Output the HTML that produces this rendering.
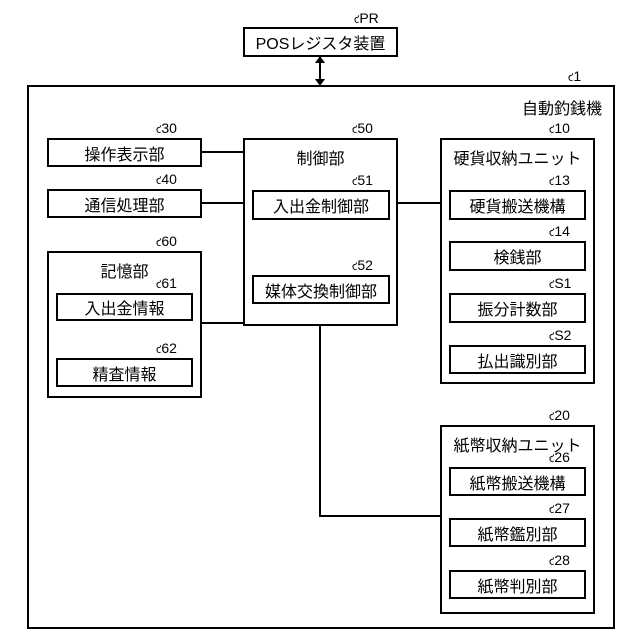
<!DOCTYPE html>
<html><head><meta charset="utf-8"><style>
body{margin:0;width:640px;height:640px;background:#fff;position:relative;font-family:"Liberation Sans","Noto Sans CJK JP",sans-serif;color:#000;overflow:hidden}
.b{position:absolute;border:2px solid #000;box-sizing:border-box;background:#fff}
.c{display:flex;align-items:center;justify-content:center;font-size:16px}
.t{position:absolute;font-size:16px;text-align:center}
.r{position:absolute;font-size:14px;line-height:14px}
.r::before{content:"ς";font-size:11px;display:inline-block;transform:rotate(180deg) scaleX(-1);margin-right:0}
.l{position:absolute;background:#000}
</style></head><body>
<svg style="position:absolute;left:0;top:0" width="640" height="640">
<line x1="320" y1="62" x2="320" y2="79" stroke="#000" stroke-width="2"/>
<polygon points="315,63 325,63 320,56" fill="#000"/>
<polygon points="315,79 325,79 320,86" fill="#000"/>
</svg>
<div class="b c" style="left:243px;top:27px;width:155px;height:30px">POSレジスタ装置</div>
<div class="r" style="left:354px;top:11px">PR</div>
<div class="b" style="left:27px;top:85px;width:588px;height:544px"></div>
<div class="r" style="left:568px;top:69px">1</div>
<div class="t" style="left:522px;top:95px">自動釣銭機</div>

<div class="l" style="left:201px;top:151px;width:43px;height:2px"></div>
<div class="l" style="left:201px;top:202px;width:43px;height:2px"></div>
<div class="l" style="left:201px;top:322px;width:43px;height:2px"></div>
<div class="l" style="left:397px;top:202px;width:44px;height:2px"></div>
<div class="l" style="left:319px;top:324px;width:2px;height:193px"></div>
<div class="l" style="left:319px;top:515px;width:122px;height:2px"></div>

<div class="b c" style="left:47px;top:138px;width:155px;height:29px">操作表示部</div>
<div class="r" style="left:156px;top:121px">30</div>
<div class="b c" style="left:47px;top:189px;width:155px;height:29px">通信処理部</div>
<div class="r" style="left:156px;top:172px">40</div>
<div class="b" style="left:47px;top:251px;width:155px;height:147px"></div>
<div class="r" style="left:156px;top:234px">60</div>
<div class="t" style="left:47px;width:155px;top:258px">記憶部</div>
<div class="b c" style="left:56px;top:293px;width:137px;height:28px">入出金情報</div>
<div class="r" style="left:156px;top:276px">61</div>
<div class="b c" style="left:56px;top:358px;width:137px;height:29px">精査情報</div>
<div class="r" style="left:156px;top:341px">62</div>

<div class="b" style="left:243px;top:138px;width:155px;height:188px"></div>
<div class="r" style="left:352px;top:121px">50</div>
<div class="t" style="left:243px;width:155px;top:145px">制御部</div>
<div class="b c" style="left:252px;top:190px;width:138px;height:30px">入出金制御部</div>
<div class="r" style="left:352px;top:173px">51</div>
<div class="b c" style="left:252px;top:275px;width:138px;height:29px">媒体交換制御部</div>
<div class="r" style="left:352px;top:258px">52</div>

<div class="b" style="left:440px;top:138px;width:155px;height:246px"></div>
<div class="r" style="left:549px;top:121px">10</div>
<div class="t" style="left:440px;width:155px;top:145px">硬貨収納ユニット</div>
<div class="b c" style="left:449px;top:190px;width:137px;height:30px">硬貨搬送機構</div>
<div class="r" style="left:549px;top:173px">13</div>
<div class="b c" style="left:449px;top:241px;width:137px;height:30px">検銭部</div>
<div class="r" style="left:549px;top:224px">14</div>
<div class="b c" style="left:449px;top:293px;width:137px;height:30px">振分計数部</div>
<div class="r" style="left:549px;top:276px">S1</div>
<div class="b c" style="left:449px;top:345px;width:137px;height:29px">払出識別部</div>
<div class="r" style="left:549px;top:328px">S2</div>

<div class="b" style="left:440px;top:425px;width:155px;height:189px"></div>
<div class="r" style="left:549px;top:408px">20</div>
<div class="t" style="left:440px;width:155px;top:432px">紙幣収納ユニット</div>
<div class="b c" style="left:449px;top:467px;width:137px;height:29px">紙幣搬送機構</div>
<div class="r" style="left:549px;top:450px">26</div>
<div class="b c" style="left:449px;top:518px;width:137px;height:29px">紙幣鑑別部</div>
<div class="r" style="left:549px;top:501px">27</div>
<div class="b c" style="left:449px;top:570px;width:137px;height:29px">紙幣判別部</div>
<div class="r" style="left:549px;top:553px">28</div>
</body></html>
